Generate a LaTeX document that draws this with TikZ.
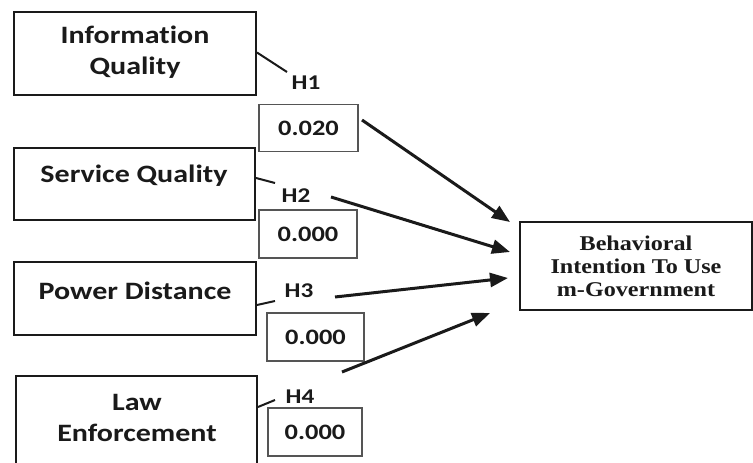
\documentclass[tikz,border=0pt]{standalone}
\usepackage{fontspec}
\usetikzlibrary{arrows.meta,calc}
\newfontfamily\calb{Carlito}[FakeStretch=1.2,Ligatures=NoCommon]
\newfontfamily\timesb{Liberation Serif}[FakeStretch=1.15]
\definecolor{ink}{HTML}{1A1A1A}
\definecolor{thinline}{HTML}{555555}
\tikzset{
  factor/.style={draw=ink, line width=2pt, inner sep=0pt},
  factortext/.style={text=ink, align=center, font=\calb\bfseries\fontsize{25}{31}\selectfont, inner sep=0pt},
  valbox/.style={draw=thinline, line width=1.2pt, inner sep=0pt, text=ink,
    font=\calb\bfseries\fontsize{22}{26}\selectfont},
  hyp/.style={text=ink, inner sep=0pt, font=\calb\bfseries\fontsize{21}{25}\selectfont},
  outcome/.style={draw=ink, line width=2pt, inner sep=0pt, text=ink, align=center,
    font=\timesb\bfseries\fontsize{21}{23}\selectfont},
  tick/.style={draw=ink, line width=2pt},
  path/.style={draw=ink, line width=3pt, -{Triangle[length=18pt,width=14pt]}}
}
\begin{document}
\begin{tikzpicture}[x=1pt,y=-1pt]
  \useasboundingbox (0,0) rectangle (753,463);
  \clip (0,0) rectangle (753,463);
  \fill[white] (0,0) rectangle (753,463);

  % predictor boxes
  \node[factor, minimum width=242pt, minimum height=83pt] (iq) at (135,53.5) {};
  \node[factortext] (iqt) at (135,52.5) {Information\\Quality};
  \node[factor, minimum width=241pt, minimum height=72pt] (sq) at (134.5,184) {};
  \node[factortext] (sqt) at (134,176) {Service Quality};
  \node[factor, minimum width=242pt, minimum height=73pt] (pd) at (135,298.5) {};
  \node[factortext] (pdt) at (135,291) {Power Distance};
  \node[factor, minimum width=241pt, minimum height=100pt] (le) at (136.5,426) {};
  \node[factortext] (let) at (137,418) {Law\\Enforcement};

  % outcome box
  \node[outcome, minimum width=232pt, minimum height=88pt] (bi) at (636,266)
    {Behavioral\\Intention To Use\\m-Government};

  % hypothesis labels
  \node[hyp] (h1) at (306,83) {H1};
  \node[hyp] (h2) at (296,196) {H2};
  \node[hyp] (h3) at (299,291) {H3};
  \node[hyp] (h4) at (300,397) {H4};

  % path coefficients
  \node[valbox, minimum width=99pt, minimum height=47pt] (v1) at (308.5,128) {0.020};
  \node[valbox, minimum width=98pt, minimum height=48pt] (v2) at (308,234) {0.000};
  \node[valbox, minimum width=97pt, minimum height=48pt] (v3) at (315.5,337) {0.000};
  \node[valbox, minimum width=94pt, minimum height=48pt] (v4) at (315,432) {0.000};

  % short leaders from boxes to labels
  \coordinate (k1) at (287,72);
  \coordinate (k2) at (275,183);
  \coordinate (k3) at (275,301);
  \coordinate (k4) at (275,400);
  \draw[tick] ([yshift=1pt]iq.east) -- (k1);
  \draw[tick] ([yshift=6pt]sq.east) -- (k2);
  \draw[tick] ([yshift=-6.5pt]pd.east) -- (k3);
  \draw[tick] ([yshift=19pt]le.east) -- (k4);

  % arrows into the outcome
  \coordinate (s1) at (362,120);
  \coordinate (s2) at (331,197);
  \coordinate (s3) at (335,297);
  \coordinate (s4) at (342,372);
  \coordinate (e1) at (510,222);
  \coordinate (e2) at (510,252);
  \coordinate (e3) at (508,278);
  \coordinate (e4) at (490,313);
  \draw[path] (s1) -- (e1);
  \draw[path] (s2) -- (e2);
  \draw[path] (s3) -- (e3);
  \draw[path] (s4) -- (e4);
\end{tikzpicture}
\end{document}
